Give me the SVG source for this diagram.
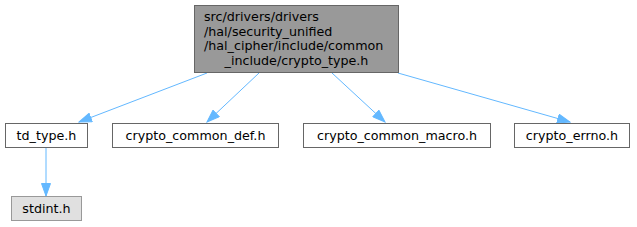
<svg xmlns="http://www.w3.org/2000/svg" width="637" height="227" viewBox="0 0 637 227">
<defs>
<style>
text{font-family:"DejaVu Sans",sans-serif;font-size:12.7px;fill:#000}
.n rect{fill:#fff;stroke:#666;stroke-width:1}
.e path{fill:none;stroke:#63b8ff;stroke-width:1}
</style>
<marker id="a" markerWidth="14" markerHeight="10" refX="13" refY="5" orient="auto" markerUnits="userSpaceOnUse">
<path d="M0.5,0.5 L13,5 L0.5,9.5 Z" fill="#63b8ff" stroke="#63b8ff"/>
</marker>
</defs>
<rect width="637" height="227" fill="#fff"/>
<g class="e">
<path d="M207,73 L79,122" marker-end="url(#a)"/>
<path d="M259,73 L207,122" marker-end="url(#a)"/>
<path d="M332,73 L385,122" marker-end="url(#a)"/>
<path d="M398,73 L570,122" marker-end="url(#a)"/>
<path d="M46,148 L46,196" marker-end="url(#a)"/>
</g>
<g id="node1" class="n">
<rect x="194.5" y="5.5" width="204" height="67" style="fill:#999"/>
<text x="204" y="21">src/drivers/drivers</text>
<text x="204" y="36">/hal/security_unified</text>
<text x="204" y="50">/hal_cipher/include/common</text>
<text x="296.5" y="65" text-anchor="middle">_include/crypto_type.h</text>
</g>
<g id="node2" class="n">
<rect x="5.5" y="123.5" width="82" height="24"/>
<text x="46.5" y="140" text-anchor="middle">td_type.h</text>
</g>
<g id="node3" class="n">
<rect x="11.5" y="196.5" width="70" height="24" style="fill:#e0e0e0;stroke:#999"/>
<text x="46.5" y="213" text-anchor="middle">stdint.h</text>
</g>
<g id="node4" class="n">
<rect x="112.5" y="123.5" width="166" height="24"/>
<text x="195.5" y="140" text-anchor="middle">crypto_common_def.h</text>
</g>
<g id="node5" class="n">
<rect x="303.5" y="123.5" width="187" height="24"/>
<text x="397" y="140" text-anchor="middle">crypto_common_macro.h</text>
</g>
<g id="node6" class="n">
<rect x="514.5" y="123.5" width="115" height="24"/>
<text x="572" y="140" text-anchor="middle">crypto_errno.h</text>
</g>
</svg>
